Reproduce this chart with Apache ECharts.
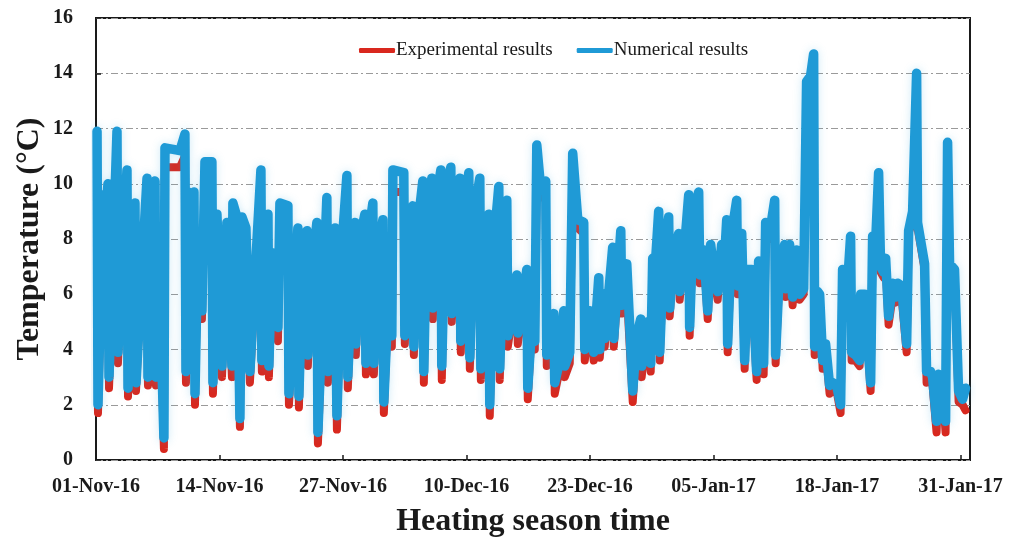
<!DOCTYPE html>
<html>
<head>
<meta charset="utf-8">
<script src="https://cdn.jsdelivr.net/npm/echarts@6/dist/echarts.min.js"></script>
<style>
html, body { margin: 0; padding: 0; background: #fff; }
#chart { width: 1009px; height: 538px; }
</style>
</head>
<body>
<div id="chart"></div>
<script>
// time of each reading, in days from 01-Nov-16
var dayPos = [
	0.11, 0.21, 0.74, 0.95, 1.26, 1.37, 2.21, 2.31, 2.74, 3.26,
	3.37, 3.68, 4.10, 4.21, 4.84, 5.37, 5.47, 5.68, 6.21, 6.31,
	6.73, 7.15, 7.26, 8.84, 9.36, 9.47, 9.68, 9.99, 10.31, 10.42,
	10.73, 11.15, 11.47, 12.20, 12.31, 12.73, 13.26, 13.78, 14.31, 14.41,
	14.83, 15.15, 15.36, 15.78, 16.20, 16.94, 17.36, 17.46, 17.78, 18.10,
	18.20, 18.52, 19.15, 19.36, 20.20, 20.31, 20.94, 21.25, 21.36, 21.78,
	22.20, 22.30, 22.73, 23.25, 23.36, 24.30, 24.41, 24.83, 25.15, 25.36,
	25.88, 26.41, 26.51, 26.93, 27.25, 27.35, 27.78, 28.30, 28.41, 28.83,
	29.14, 29.25, 29.77, 30.20, 30.30, 30.72, 31.14, 31.25, 32.40, 32.51,
	32.83, 33.35, 33.46, 33.88, 34.40, 34.51, 34.82, 35.35, 35.46, 35.77,
	36.30, 36.40, 36.82, 37.35, 37.45, 37.88, 38.30, 38.40, 38.82, 39.24,
	39.35, 39.87, 40.40, 40.51, 40.93, 41.35, 41.45, 41.87, 42.40, 42.50,
	42.93, 43.24, 43.35, 43.77, 44.29, 44.40, 44.82, 45.35, 45.45, 45.87,
	46.19, 46.40, 46.82, 47.34, 47.45, 47.77, 48.19, 48.29, 48.82, 49.24,
	49.34, 49.87, 50.18, 50.71, 51.34, 51.45, 51.97, 52.39, 52.92, 53.03,
	53.45, 53.55, 54.39, 54.50, 55.24, 55.34, 55.87, 56.50, 56.92, 57.34,
	57.44, 57.87, 58.08, 58.39, 58.60, 58.92, 59.23, 59.34, 59.76, 60.28,
	60.39, 60.81, 61.34, 61.44, 61.86, 62.39, 62.49, 62.91, 63.44, 63.55,
	63.97, 64.39, 64.70, 65.02, 65.44, 65.86, 66.07, 66.39, 66.49, 66.91,
	67.44, 67.54, 67.97, 68.28, 68.60, 69.02, 69.54, 69.75, 69.86, 70.28,
	70.49, 70.91, 71.44, 71.54, 71.96, 72.49, 72.59, 73.01, 73.33, 73.75,
	74.07, 74.49, 74.80, 75.22, 75.54, 75.65, 75.96, 76.17, 76.49, 76.80,
	77.22, 77.54, 77.96, 78.38, 78.59, 79.01, 79.43, 79.54, 79.96, 80.38,
	80.49, 80.91, 81.54, 81.75, 82.06, 82.38, 82.59, 82.91, 83.12, 83.43,
	83.85, 84.17, 84.38, 84.80, 85.33, 85.54, 85.96, 86.38, 86.48, 87.22,
	87.43, 87.85, 88.06, 88.48, 88.69, 89.11, 89.43, 89.64, 89.85, 90.37,
	90.80, 91.22, 91.53
];

var numerical = [
	11.9, 2.0, 9.6, 8.6, 10.0, 3.0, 11.9, 3.9, 7.0, 10.5,
	2.6, 7.7, 9.3, 2.8, 6.9, 10.2, 3.0, 9.8, 10.1, 3.0,
	6.0, 0.8, 11.3, 11.2, 11.8, 3.2, 9.7, 8.8, 9.7, 2.4,
	8.0, 5.4, 10.8, 10.8, 2.8, 8.9, 3.4, 8.6, 3.4, 9.3,
	8.8, 1.5, 8.8, 8.4, 3.2, 7.9, 10.5, 3.6, 8.3, 8.9,
	3.4, 7.5, 4.8, 9.3, 9.2, 2.4, 6.4, 8.4, 2.3, 7.7,
	8.3, 3.8, 6.8, 8.6, 1.0, 9.5, 3.2, 6.1, 8.4, 1.6,
	7.7, 10.3, 3.0, 6.6, 8.6, 4.2, 8.0, 8.9, 3.5, 8.5,
	9.3, 3.5, 7.8, 8.7, 2.1, 5.5, 4.5, 10.5, 10.4, 4.5,
	7.9, 9.2, 4.1, 8.5, 10.1, 3.2, 9.1, 10.2, 5.5, 9.3,
	10.5, 3.4, 9.7, 10.6, 5.3, 8.3, 10.2, 4.3, 9.0, 10.4,
	3.7, 9.1, 10.2, 3.3, 8.0, 8.9, 2.0, 7.8, 9.9, 3.3,
	8.1, 9.4, 4.5, 5.2, 6.7, 4.6, 5.4, 6.9, 2.6, 4.9,
	4.3, 11.4, 9.8, 10.1, 3.8, 4.3, 5.3, 2.8, 3.6, 5.4,
	3.4, 3.9, 11.1, 8.7, 8.6, 4.0, 5.4, 3.9, 6.6, 4.0,
	6.0, 4.4, 7.7, 4.4, 8.3, 5.6, 7.1, 2.5, 4.5, 5.1,
	3.4, 4.6, 5.0, 3.5, 7.3, 7.3, 9.0, 3.9, 7.6, 8.8,
	5.5, 7.5, 8.2, 6.1, 7.3, 9.6, 4.8, 9.0, 9.7, 6.7,
	7.6, 5.4, 7.8, 6.9, 6.1, 7.8, 6.7, 8.7, 4.2, 8.2,
	9.4, 6.3, 8.2, 3.6, 6.9, 6.9, 3.2, 7.2, 5.6, 3.5,
	8.6, 8.2, 9.4, 3.8, 7.0, 7.8, 6.2, 7.8, 5.9, 7.6,
	6.0, 6.2, 13.7, 13.9, 14.7, 4.1, 6.1, 6.0, 3.6, 4.2,
	2.7, 2.8, 2.7, 2.0, 6.9, 5.8, 8.1, 3.9, 3.8, 3.6,
	6.0, 6.0, 2.8, 8.1, 7.8, 10.4, 7.0, 6.8, 7.3, 5.2,
	6.4, 5.9, 6.4, 6.3, 4.2, 8.3, 9.0, 14.0, 8.6, 7.1,
	3.2, 3.2, 3.0, 1.4, 3.1, 2.8, 1.4, 11.5, 7.1, 6.9,
	2.5, 2.2, 2.6
];

var experimental = [
	11.4, 1.7, 8.7, 8.3, 9.3, 2.6, 11.0, 3.5, 7.0, 9.7,
	2.3, 7.7, 8.2, 2.5, 6.9, 9.3, 2.7, 9.3, 9.6, 2.7,
	6.0, 0.4, 10.6, 10.6, 11.0, 2.8, 8.4, 8.4, 9.2, 2.0,
	7.9, 5.1, 10.1, 10.1, 2.4, 7.8, 3.0, 8.1, 3.0, 8.8,
	8.5, 1.2, 8.6, 8.2, 2.8, 7.6, 9.8, 3.2, 7.9, 8.4,
	3.0, 7.0, 4.3, 8.8, 8.6, 2.0, 6.2, 8.0, 1.9, 7.7,
	7.9, 3.4, 6.7, 8.1, 0.6, 9.0, 2.8, 6.0, 8.0, 1.1,
	7.6, 9.6, 2.6, 6.6, 8.3, 3.8, 7.9, 8.3, 3.1, 8.4,
	8.8, 3.1, 7.7, 8.2, 1.7, 5.4, 4.1, 9.7, 9.7, 4.2,
	7.8, 8.8, 3.8, 8.4, 9.6, 2.8, 9.0, 9.4, 5.1, 9.3,
	9.8, 2.9, 9.7, 9.9, 5.0, 8.2, 9.6, 3.9, 8.9, 9.8,
	3.3, 9.1, 9.6, 2.9, 7.8, 8.2, 1.6, 7.7, 9.3, 2.9,
	8.0, 8.9, 4.1, 5.1, 6.4, 4.2, 5.2, 6.5, 2.2, 4.8,
	4.0, 10.6, 9.5, 9.6, 3.4, 4.2, 5.1, 2.4, 3.3, 5.0,
	3.0, 3.5, 10.5, 8.4, 8.2, 3.6, 5.2, 3.6, 6.3, 3.7,
	5.8, 4.1, 7.4, 4.1, 7.7, 5.3, 6.1, 2.1, 4.4, 4.8,
	3.0, 4.4, 4.6, 3.2, 7.0, 6.9, 8.7, 3.6, 7.5, 8.1,
	5.2, 7.4, 7.6, 5.8, 7.2, 9.1, 4.5, 9.0, 9.1, 6.4,
	7.5, 5.1, 7.5, 6.6, 5.8, 7.6, 6.5, 8.2, 3.9, 8.1,
	8.2, 6.0, 8.1, 3.3, 6.8, 6.3, 2.9, 6.9, 5.5, 3.1,
	8.0, 8.0, 8.9, 3.5, 6.9, 7.5, 5.9, 7.6, 5.6, 7.5,
	5.8, 6.0, 13.4, 13.7, 14.2, 3.8, 6.0, 5.9, 3.3, 4.0,
	2.4, 2.5, 2.5, 1.7, 6.6, 5.6, 7.9, 3.6, 3.6, 3.4,
	5.8, 5.7, 2.5, 7.8, 7.6, 8.0, 6.8, 6.6, 7.0, 4.9,
	5.9, 5.7, 6.0, 5.9, 3.9, 8.2, 8.7, 13.6, 8.4, 6.9,
	2.8, 3.0, 2.7, 1.0, 2.8, 2.5, 1.0, 11.0, 6.9, 6.7,
	2.1, 2.0, 1.8
];

var tickLabels = ['01-Nov-16', '14-Nov-16', '27-Nov-16', '10-Dec-16', '23-Dec-16', '05-Jan-17', '18-Jan-17', '31-Jan-17'];
var seriesNames = ['Experimental results', 'Numerical results'];

(function() {
	var chart = echarts.init(document.getElementById('chart'));
	var serif = '"Liberation Serif", "Times New Roman", serif';

	var pair = function(vals) {
		var out = [];
		for (var i = 0; i < dayPos.length; i++) {
			out.push([dayPos[i], vals[i]]);
		}
		return out;
	};

	var option = {
		animation : false,
		backgroundColor : '#fff',
		grid : {
			left : 96,
			right : 39,
			top : 18,
			bottom : 78,
			outerBoundsMode : 'none',
			show : true,
			borderColor : '#1a1a1a',
			borderWidth : 2
		},
		legend : {
			left : 354,
			top : 36,
			itemWidth : 36,
			itemHeight : 5,
			itemGap : 24,
			icon : 'roundRect',
			textStyle : {
				fontFamily : serif,
				fontSize : 19,
				color : '#1a1a1a',
				padding : [ 0, 0, 0, -4 ]
			},
			data : seriesNames
		},
		xAxis : {
			type : 'value',
			min : 0,
			max : 92,
			interval : 13,
			name : 'Heating season time',
			nameLocation : 'middle',
			nameGap : 46,
			nameMoveOverlap : false,
			nameTextStyle : {
				fontFamily : serif,
				fontWeight : 'bold',
				fontSize : 32,
				color : '#1a1a1a'
			},
			axisLine : { show : false },
			axisTick : {
				inside : true,
				length : 5,
				lineStyle : { color : '#1a1a1a', width : 1.5 }
			},
			splitLine : { show : false },
			axisLabel : {
				margin : 17,
				fontFamily : serif,
				fontWeight : 'bold',
				fontSize : 20,
				color : '#1a1a1a',
				formatter : function(v) {
					var i = Math.round(v / 13);
					if (Math.abs(v - i * 13) > 1e-6) return '';
					return tickLabels[i] || '';
				}
			}
		},
		yAxis : {
			type : 'value',
			min : 0,
			max : 16,
			interval : 2,
			name : 'Temperature (\u00B0C)',
			nameLocation : 'middle',
			nameGap : 50,
			nameMoveOverlap : false,
			nameTextStyle : {
				fontFamily : serif,
				fontWeight : 'bold',
				fontSize : 32,
				color : '#1a1a1a'
			},
			axisLine : { show : false },
			axisTick : {
				show : true,
				inside : true,
				length : 5,
				lineStyle : { color : '#1a1a1a', width : 1.5 }
			},
			splitLine : {
				lineStyle : {
					color : '#9a9a9a',
					width : 1,
					type : [ 7, 3, 2, 3 ]
				}
			},
			axisLabel : {
				margin : 23,
				fontFamily : serif,
				fontWeight : 'bold',
				fontSize : 20,
				color : '#1a1a1a'
			}
		},
		series : [ {
			name : seriesNames[0],
			type : 'line',
			symbol : 'none',
			data : pair(experimental),
			itemStyle : { color : '#d9281e' },
			lineStyle : {
				color : '#d9281e',
				width : 8,
				cap : 'round',
				join : 'round'
			},
			z : 2
		}, {
			name : seriesNames[1],
			type : 'line',
			symbol : 'none',
			data : pair(numerical),
			itemStyle : { color : '#1f9ad6' },
			lineStyle : {
				color : '#1f9ad6',
				width : 9.5,
				cap : 'round',
				join : 'round',
				shadowColor : 'rgba(60,170,225,0.25)',
				shadowBlur : 8
			},
			z : 3
		} ]
	};
	chart.setOption(option);
})();
</script>
</body>
</html>
